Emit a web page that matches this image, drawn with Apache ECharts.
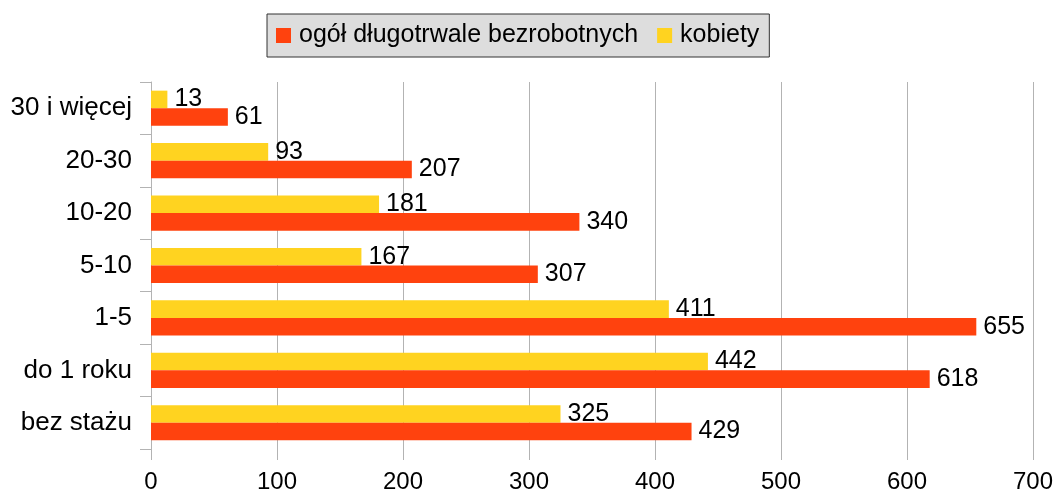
<!DOCTYPE html>
<html>
<head>
<meta charset="utf-8">
<script src="https://cdn.jsdelivr.net/npm/echarts@6/dist/echarts.min.js"></script>
<style>
  html, body { margin: 0; padding: 0; background: #fff; }
  #chart { width: 1057px; height: 494px; }
</style>
</head>
<body>
<div id="chart"></div>
<script>
// kategorie stażu pracy (od dołu do góry)
var categories = ['bez stażu', 'do 1 roku', '1-5', '5-10', '10-20', '20-30', '30 i więcej'];
var ogol = [429, 618, 655, 307, 340, 207, 61];
var kobiety = [325, 442, 411, 167, 181, 93, 13];
var xTicks = [0, 100, 200, 300, 400, 500, 600, 700];

var myChart = echarts.init(document.getElementById('chart'));
var font = 'Liberation Sans';
var option = {
    animation: false,
    textStyle: { fontFamily: font },
    legend: {
        top: 14,
        left: 267,
        data: ['ogół długotrwale bezrobotnych', 'kobiety'],
        icon: 'rect',
        itemWidth: 15,
        itemHeight: 15,
        itemGap: 19,
        padding: [9, 10, 9, 9],
        backgroundColor: '#dddddd',
        borderColor: '#333333',
        borderWidth: 1,
        textStyle: { fontSize: 25, color: '#000', fontFamily: font, padding: [0, 0, 0, 3] }
    },
    grid: {
        left: 151,
        right: 24,
        top: 82,
        bottom: 45
    },
    xAxis: {
        type: 'value',
        min: xTicks[0],
        max: xTicks[xTicks.length - 1],
        interval: 100,
        axisLine: { show: false },
        axisTick: { show: true, length: 11, lineStyle: { color: '#b3b3b3' } },
        splitLine: { show: true, lineStyle: { color: '#b3b3b3' } },
        axisLabel: {
            margin: 21,
            fontSize: 24,
            color: '#000',
            fontFamily: font
        }
    },
    yAxis: {
        type: 'category',
        data: categories,
        axisLine: { show: true, lineStyle: { color: '#b3b3b3' } },
        axisTick: { show: true, length: 11, lineStyle: { color: '#b3b3b3' } },
        axisLabel: {
            margin: 19,
            fontSize: 26,
            color: '#000',
            fontFamily: font
        }
    },
    series: [
        {
            name: 'kobiety',
            type: 'bar',
            data: kobiety,
            barGap: '0%',
            barCategoryGap: '33%',
            itemStyle: { color: '#ffd320' },
            label: {
                show: true,
                position: 'right',
                distance: 7,
                fontSize: 25,
                color: '#000',
                fontFamily: font
            }
        },
        {
            name: 'ogół długotrwale bezrobotnych',
            type: 'bar',
            data: ogol,
            barGap: '0%',
            barCategoryGap: '33%',
            itemStyle: { color: '#ff420e' },
            label: {
                show: true,
                position: 'right',
                distance: 7,
                fontSize: 25,
                color: '#000',
                fontFamily: font
            }
        }
    ]
};
myChart.setOption(option);
</script>
</body>
</html>
